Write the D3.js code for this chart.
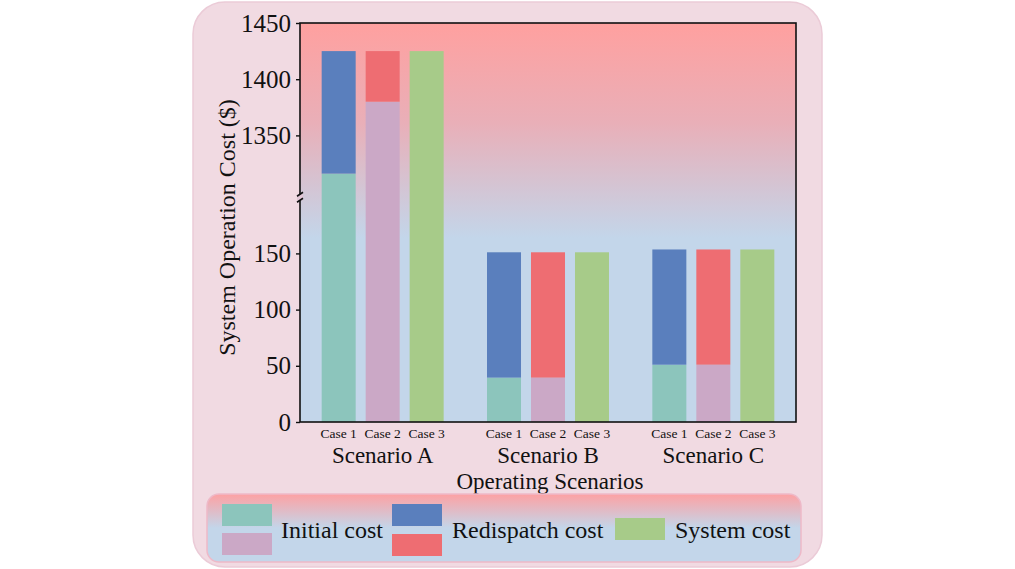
<!DOCTYPE html>
<html>
<head>
<meta charset="utf-8">
<script src="https://cdn.jsdelivr.net/npm/d3@7"></script>
<style>
  body { margin: 0; background: #fff; }
  text { font-family: "Liberation Serif", "Times New Roman", serif; fill: #111; }
</style>
</head>
<body>
<svg id="chart" width="1015" height="569"></svg>
<script>
const scenarios = ['Scenario A', 'Scenario B', 'Scenario C'];
const cases = ['Case 1', 'Case 2', 'Case 3'];
const case1Initial = [1316, 39.5, 51];
const case1Redispatch = [109, 111.5, 102.5];
const case2Initial = [1380, 39.5, 51];
const case2Redispatch = [45, 111.5, 102.5];
const systemCost = [1425, 151, 153.5];
const lowTicks = [0, 50, 100, 150];
const highTicks = [1350, 1400, 1450];
const legendLabels = ['Initial cost', 'Redispatch cost', 'System cost'];

const colours = {
    initial1: '#8cc5bc', initial2: '#cba8c6',
    redis1: '#5a7fbd', redis2: '#ee6d72',
    system: '#a7cb89'
};

const svg = d3.select('#chart');
const plot = {left: 300, right: 796, top: 23, bottom: 422};
const lowMax = 200, highMin = 1295, highMax = 1450;
const k = (plot.bottom - plot.top) / (lowMax + highMax - highMin);
const yBreak = plot.bottom - lowMax * k;

const yLow = d3.scaleLinear().domain([0, lowMax]).range([plot.bottom, yBreak]);
const yHigh = d3.scaleLinear().domain([highMin, highMax]).range([yBreak, plot.top]);
const y = v => v <= lowMax ? yLow(v) : yHigh(v);

const x0 = d3.scaleBand().domain(scenarios).range([plot.left, plot.right]);
const x1 = d3.scaleBand().domain(cases).range([-61, 61]).paddingInner(0.227);

const defs = svg.append('defs');
function grad(id, stops) {
    const g = defs.append('linearGradient').attr('id', id)
        .attr('x1', 0).attr('y1', 0).attr('x2', 0).attr('y2', 1);
    stops.forEach(([o, c]) => g.append('stop').attr('offset', o).attr('stop-color', c));
}
grad('plotBg', [['0%', '#ffa09f'], ['25%', '#e9afb8'], ['54%', '#c3d6ea'], ['100%', '#c3d6ea']]);
grad('legBg', [['0%', '#fda1a3'], ['50%', '#c3d6ea'], ['100%', '#c3d6ea']]);

// card
svg.append('rect')
    .attr('x', 193).attr('y', 2).attr('width', 629).attr('height', 565)
    .attr('rx', 32)
    .attr('fill', '#f1dae2').attr('stroke', '#ebcbd7').attr('stroke-width', 1.5);

// plot background
svg.append('rect')
    .attr('x', plot.left).attr('y', plot.top)
    .attr('width', plot.right - plot.left).attr('height', plot.bottom - plot.top)
    .attr('fill', 'url(#plotBg)');

// bars
const bars = [];
scenarios.forEach((s, i) => {
    bars.push({s, c: 'Case 1', y0: 0, y1: case1Initial[i], fill: colours.initial1});
    bars.push({s, c: 'Case 1', y0: case1Initial[i], y1: case1Initial[i] + case1Redispatch[i], fill: colours.redis1});
    bars.push({s, c: 'Case 2', y0: 0, y1: case2Initial[i], fill: colours.initial2});
    bars.push({s, c: 'Case 2', y0: case2Initial[i], y1: case2Initial[i] + case2Redispatch[i], fill: colours.redis2});
    bars.push({s, c: 'Case 3', y0: 0, y1: systemCost[i], fill: colours.system});
});

svg.append('g')
    .selectAll('rect')
        .data(bars)
    .enter()
    .append('rect')
        .attr('x', d => x0(d.s) + x0.bandwidth() / 2 + x1(d.c))
        .attr('width', x1.bandwidth())
        .attr('y', d => y(d.y1))
        .attr('height', d => y(d.y0) - y(d.y1))
        .attr('fill', d => d.fill);

// frame
svg.append('rect')
    .attr('x', plot.left).attr('y', plot.top)
    .attr('width', plot.right - plot.left).attr('height', plot.bottom - plot.top)
    .attr('fill', 'none').attr('stroke', '#111').attr('stroke-width', 1.6);

// left axis with break
const axisG = svg.append('g');
axisG.append('rect')
    .attr('x', plot.left - 3).attr('y', yBreak - 3).attr('width', 6).attr('height', 6)
    .attr('fill', '#e2c6d6');
[-3, 3].forEach(dy => axisG.append('line')
    .attr('x1', plot.left - 3).attr('y1', yBreak + dy + 2)
    .attr('x2', plot.left + 3).attr('y2', yBreak + dy - 2)
    .attr('stroke', '#111').attr('stroke-width', 1.6));

function drawAxis(scale, ticks) {
    const g = svg.append('g')
        .attr('transform', `translate(${plot.left},0)`)
        .call(d3.axisLeft(scale).tickValues(ticks).tickSize(4).tickPadding(5).tickFormat(d3.format('d')));
    g.select('.domain').remove();
    g.selectAll('.tick line').attr('stroke', '#111').attr('stroke-width', 1.4);
    g.selectAll('.tick text')
        .style('font-family', '"Liberation Serif", serif')
        .style('font-size', '25px').attr('fill', '#111');
}
drawAxis(yLow, lowTicks);
drawAxis(yHigh, highTicks);

// x labels
const xl = svg.append('g');
scenarios.forEach(s => {
    const cx = x0(s) + x0.bandwidth() / 2;
    cases.forEach(c => {
        xl.append('text')
            .attr('x', cx + x1(c) + x1.bandwidth() / 2)
            .attr('y', 438)
            .attr('text-anchor', 'middle')
            .style('font-size', '13.5px')
            .text(c);
    });
    xl.append('text')
        .attr('x', cx).attr('y', 463)
        .attr('text-anchor', 'middle')
        .style('font-size', '23px')
        .text(s);
});

svg.append('text')
    .attr('x', (plot.left + plot.right) / 2 + 2).attr('y', 489)
    .attr('text-anchor', 'middle')
    .style('font-size', '23px')
    .text('Operating Scenarios');

svg.append('text')
    .attr('transform', `translate(235,${(plot.top + plot.bottom) / 2 + 5}) rotate(-90)`)
    .attr('text-anchor', 'middle')
    .style('font-size', '24px')
    .text('System Operation Cost ($)');

// legend
const legend = svg.append('g');
legend.append('rect')
    .attr('x', 207).attr('y', 494).attr('width', 594).attr('height', 68)
    .attr('rx', 12)
    .attr('fill', 'url(#legBg)').attr('stroke', '#eeb9c8').attr('stroke-width', 1.5);

const swatches = [
    {x: 222, y: 504, fill: colours.initial1},
    {x: 222, y: 533, fill: colours.initial2},
    {x: 392, y: 504, fill: colours.redis1},
    {x: 392, y: 534, fill: colours.redis2},
    {x: 615, y: 518, fill: colours.system}
];
legend.selectAll('.swatch')
        .data(swatches)
    .enter()
    .append('rect')
        .classed('swatch', true)
        .attr('x', d => d.x).attr('y', d => d.y)
        .attr('width', 50).attr('height', 22)
        .attr('fill', d => d.fill);

legend.selectAll('.legend__text')
        .data(legendLabels)
    .enter()
    .append('text')
        .classed('legend__text', true)
        .attr('x', (d, i) => [281, 452, 675][i])
        .attr('y', 538)
        .style('font-size', '24px')
        .text(d => d);
</script>
</body>
</html>
